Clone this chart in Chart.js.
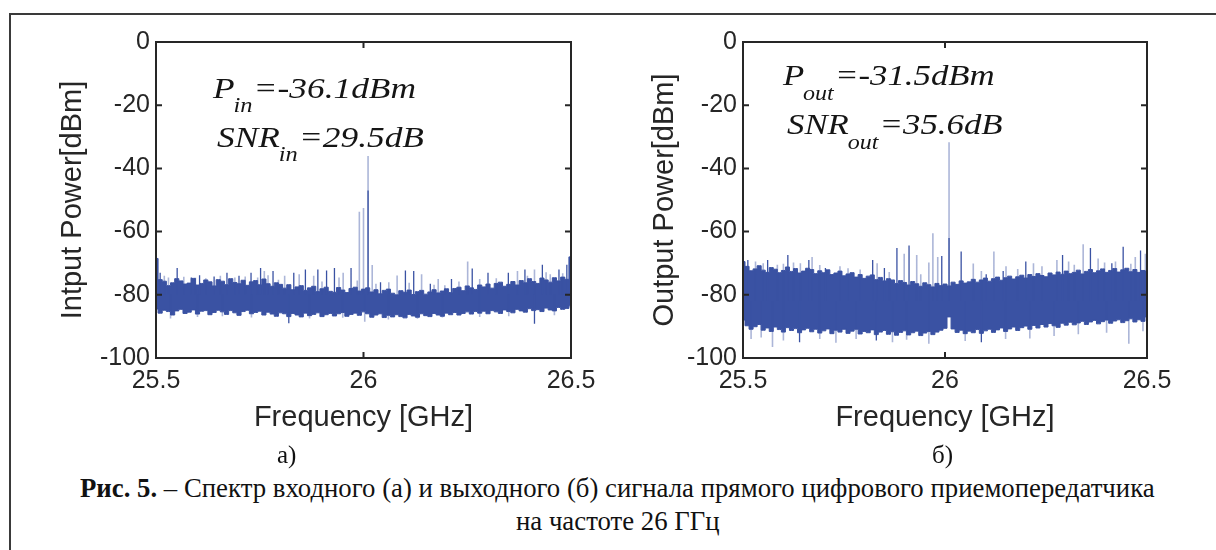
<!DOCTYPE html>
<html>
<head>
<meta charset="utf-8">
<script src="https://cdn.jsdelivr.net/npm/chart.js@4.4.1/dist/chart.umd.min.js"></script>
<style>
  body { margin:0; background:#fff; width:1216px; height:550px; overflow:hidden; position:relative; font-family:"Liberation Serif","Times New Roman",serif; }
  #frame { position:absolute; left:9px; top:13px; width:1300px; height:700px; border-top:2px solid #3a3a3a; border-left:2px solid #3a3a3a; }
  canvas { position:absolute; top:0; }
  #chartIn { left:0; }
  #chartOut { left:608px; }
  .cap { position:absolute; white-space:nowrap; color:#111; font-size:27px; line-height:28px; transform-origin:0 0; }
  .sub { font-size:25px; }
</style>
</head>
<body>
<div id="frame"></div>
<canvas id="chartIn" width="608" height="445"></canvas>
<canvas id="chartOut" width="608" height="445"></canvas>
<div class="cap sub" style="left:277px; top:441px;">а)</div>
<div class="cap sub" style="left:932px; top:441px;">б)</div>
<div class="cap" id="cap1" style="left:80px; top:474px;"><b>Рис. 5.</b> – Спектр входного (а) и выходного (б) сигнала прямого цифрового приемопередатчика</div>
<div class="cap" id="cap2" style="left:530px; top:507px;">на частоте 26 ГГц</div>
<script>
// frequency grid (GHz) used for the noise floor envelopes of both spectra
const freqGrid = [
  25.50,25.51,25.52,25.53,25.54,25.55,25.56,25.57,25.58,25.59,
  25.60,25.61,25.62,25.63,25.64,25.65,25.66,25.67,25.68,25.69,
  25.70,25.71,25.72,25.73,25.74,25.75,25.76,25.77,25.78,25.79,
  25.80,25.81,25.82,25.83,25.84,25.85,25.86,25.87,25.88,25.89,
  25.90,25.91,25.92,25.93,25.94,25.95,25.96,25.97,25.98,25.99,
  26.00,26.01,26.02,26.03,26.04,26.05,26.06,26.07,26.08,26.09,
  26.10,26.11,26.12,26.13,26.14,26.15,26.16,26.17,26.18,26.19,
  26.20,26.21,26.22,26.23,26.24,26.25,26.26,26.27,26.28,26.29,
  26.30,26.31,26.32,26.33,26.34,26.35,26.36,26.37,26.38,26.39,
  26.40,26.41,26.42,26.43,26.44,26.45,26.46,26.47,26.48,26.49,
  26.50
];

// input spectrum (a): top / bottom of the dense noise band, dBm
const inTop = [
  -68.5,-75.2,-75.7,-77.1,-76.2,-74.9,-75.6,-76.6,-76.3,-74.8,
  -76.9,-76.4,-75.3,-75.9,-77.2,-75.2,-75.7,-76.8,-74.9,-76.1,
  -76.5,-75.4,-77.0,-75.9,-75.5,-76.8,-75.0,-76.5,-77.3,-76.2,
  -76.7,-77.9,-76.8,-78.4,-77.5,-77.1,-78.6,-77.8,-77.3,-79.0,
  -78.1,-77.6,-78.9,-79.2,-77.7,-78.5,-79.3,-78.0,-77.6,-78.8,
  -78.2,-77.8,-79.1,-78.4,-79.7,-78.6,-78.2,-79.5,-80.0,-78.7,
  -79.2,-78.5,-79.9,-79.0,-78.6,-79.8,-79.1,-78.4,-79.4,-78.8,
  -78.1,-79.3,-78.0,-77.6,-78.7,-77.2,-77.8,-78.3,-76.9,-77.5,
  -76.6,-77.9,-76.4,-76.0,-77.3,-76.7,-75.8,-76.9,-75.5,-76.2,
  -74.9,-75.8,-76.4,-74.7,-75.3,-76.0,-74.6,-75.6,-74.4,-75.1,
  -68.0
];
const inBot = [
  -84.5,-85.8,-84.9,-85.3,-86.4,-85.1,-84.6,-85.9,-85.5,-84.8,
  -86.1,-85.2,-85.0,-86.3,-85.6,-84.9,-85.4,-86.2,-85.0,-85.7,
  -86.5,-85.3,-84.9,-86.0,-85.6,-85.2,-86.4,-85.5,-86.1,-86.8,
  -85.7,-86.0,-86.9,-85.9,-86.4,-87.0,-85.8,-86.6,-86.2,-85.7,
  -86.9,-86.3,-85.9,-86.7,-86.0,-85.6,-86.8,-86.2,-85.8,-86.5,
  -85.4,-86.0,-87.1,-86.4,-86.0,-87.2,-86.5,-87.0,-86.3,-86.9,
  -87.3,-86.2,-86.7,-87.1,-86.0,-86.6,-86.9,-85.9,-86.4,-86.8,
  -85.8,-86.3,-85.6,-86.4,-85.9,-85.4,-86.1,-85.3,-85.8,-85.2,
  -86.0,-85.0,-85.4,-85.9,-84.8,-85.3,-85.7,-84.6,-85.1,-85.5,
  -84.4,-85.0,-84.7,-85.3,-84.2,-84.8,-85.1,-84.0,-84.6,-84.3,
  -83.5
];
// isolated spectral lines [GHz, dBm], dark and faint strokes
const inSpikesDark = [
  [25.510,-73.0],[25.551,-71.5],[25.585,-74.5],[25.605,-73.8],[25.640,-74.2],
  [25.671,-73.0],[25.700,-74.0],[25.729,-73.0],[25.752,-71.5],[25.782,-72.5],
  [25.832,-73.0],[25.860,-72.0],[25.890,-72.0],[25.911,-72.3],[25.930,-71.5],
  [25.970,-71.5],[26.011,-47.0],[26.041,-76.0],[26.101,-72.3],[26.121,-72.5],
  [26.161,-76.5],[26.212,-75.0],[26.262,-71.7],[26.300,-73.0],[26.349,-73.0],
  [26.389,-72.0],[26.431,-70.5],[26.471,-72.0],[26.490,-70.5],
  [25.820,-89.0],[26.412,-89.2]
];
const inSpikesFaint = [
  [25.530,-74.5],[25.620,-74.8],[25.690,-74.5],[25.761,-72.5],[25.810,-74.0],
  [25.845,-73.5],[25.880,-74.0],[25.941,-74.5],[25.951,-73.0],[25.990,-53.7],
  [26.000,-52.5],[26.011,-36.1],[26.021,-70.6],[26.061,-76.0],[26.081,-73.9],
  [26.140,-73.5],[26.180,-75.0],[26.196,-77.0],[26.251,-69.5],[26.280,-75.0],
  [26.371,-72.5],[26.412,-72.0],[26.450,-73.5],
  [25.520,-74.0],[25.567,-74.3],[25.595,-74.6],[25.655,-74.0],[25.715,-74.2],
  [25.745,-74.5],[25.770,-73.8],[25.795,-75.2],[25.900,-75.8],[25.985,-75.5],
  [26.030,-76.5],[26.110,-76.2],[26.170,-76.8],[26.230,-75.8],[26.320,-74.8],
  [26.395,-74.0],[26.440,-72.9],[26.480,-73.2],
  [25.535,-87.5],[25.600,-87.0],[25.660,-86.8],[25.730,-87.2],[25.870,-87.5],
  [25.950,-87.3],[26.003,-88.5],[26.060,-87.8],[26.130,-87.6],[26.190,-87.2],
  [26.280,-87.0],[26.350,-86.8],[26.460,-86.5]
];

// output spectrum (б)
const outTop = [
  -69.5,-71.0,-72.4,-71.8,-70.8,-72.2,-72.9,-71.4,-71.9,-73.0,
  -72.3,-71.2,-72.6,-71.7,-73.1,-72.5,-71.6,-72.0,-73.3,-72.4,
  -73.0,-72.1,-73.6,-73.1,-72.5,-74.0,-73.4,-73.0,-74.4,-73.6,
  -74.8,-74.1,-73.7,-75.2,-74.5,-75.6,-74.9,-75.3,-76.4,-75.5,
  -76.1,-76.9,-75.8,-76.5,-77.3,-76.2,-76.8,-77.5,-76.4,-77.1,
  -76.6,-77.2,-76.0,-76.7,-75.6,-76.3,-75.9,-75.1,-76.0,-75.3,
  -74.7,-75.7,-74.9,-74.4,-75.4,-74.6,-74.1,-75.0,-74.3,-73.8,
  -74.7,-73.6,-74.2,-73.3,-73.9,-74.3,-73.1,-73.7,-72.8,-73.5,
  -72.5,-73.3,-72.9,-72.2,-73.4,-72.6,-72.0,-73.0,-72.4,-71.8,
  -72.9,-72.3,-71.7,-72.8,-72.1,-71.6,-72.7,-72.0,-72.9,-72.3,
  -72.5
];
const outBot = [
  -88.0,-89.8,-90.9,-90.1,-89.4,-91.2,-90.5,-91.6,-90.2,-91.0,
  -91.8,-90.4,-91.3,-90.7,-92.0,-91.1,-90.6,-91.7,-90.9,-92.1,
  -91.4,-90.8,-92.3,-91.2,-91.8,-90.9,-92.2,-91.5,-90.9,-92.4,
  -91.6,-92.0,-91.1,-92.6,-91.8,-91.3,-92.5,-91.7,-92.8,-91.9,
  -91.4,-92.7,-92.0,-91.5,-92.9,-92.1,-91.6,-92.6,-91.8,-91.2,
  -90.6,-87.0,-90.8,-91.9,-91.2,-92.3,-91.5,-92.0,-91.0,-92.2,
  -91.4,-90.9,-91.9,-91.1,-90.5,-91.6,-90.8,-90.2,-91.3,-90.4,
  -89.9,-90.9,-89.7,-90.5,-89.4,-90.2,-89.1,-89.8,-90.3,-89.0,
  -89.6,-88.7,-89.5,-88.9,-88.4,-89.4,-88.6,-88.1,-89.2,-88.5,
  -88.0,-89.0,-88.3,-87.9,-88.8,-88.2,-87.6,-88.6,-87.9,-88.4,
  -87.0
];
const outSpikesDark = [
  [25.512,-69.0],[25.561,-69.0],[25.611,-67.4],[25.663,-69.0],[25.704,-71.5],
  [25.821,-69.0],[25.850,-71.5],[25.881,-65.2],[25.911,-64.4],[25.992,-67.7],
  [26.010,-62.0],[26.040,-66.3],[26.102,-73.5],[26.144,-72.5],[26.200,-69.5],
  [26.291,-67.4],[26.360,-65.2],[26.413,-70.0],[26.441,-64.8],[26.484,-66.0],
  [25.640,-95.0],[25.830,-94.5],[26.090,-95.0]
];
const outSpikesFaint = [
  [25.531,-69.5],[25.585,-70.5],[25.642,-70.0],[25.671,-68.0],[25.740,-71.0],
  [25.832,-70.0],[25.899,-67.0],[25.930,-67.4],[25.960,-69.8],[25.970,-60.5],
  [25.982,-68.0],[26.010,-31.7],[26.070,-70.1],[26.121,-66.3],[26.151,-71.0],
  [26.219,-70.0],[26.277,-69.0],[26.306,-69.5],[26.342,-64.0],[26.379,-68.5],
  [26.422,-69.5],[26.471,-68.0],[26.496,-67.0],
  [25.550,-70.0],[25.600,-70.2],[25.625,-69.8],[25.690,-70.6],[25.760,-71.6],
  [25.790,-72.0],[25.862,-72.8],[25.940,-73.5],[26.090,-72.5],[26.180,-71.8],
  [26.240,-71.0],[26.320,-70.5],[26.395,-69.8],[26.460,-70.2],
  [25.520,-94.0],[25.545,-93.5],[25.573,-96.5],[25.600,-94.5],[25.690,-94.0],
  [25.730,-95.2],[25.780,-94.0],[25.870,-95.0],[25.905,-94.2],[25.960,-95.5],
  [26.050,-94.6],[26.150,-94.0],[26.210,-93.8],[26.270,-93.0],[26.330,-92.5],
  [26.400,-92.0],[26.455,-95.5],[26.490,-91.5]
];

const xTicks = [25.5, 26, 26.5];
const yTicks = [-100, -80, -60, -40, -20, 0];

const BLUE = 'rgb(58,82,163)';
const FAINT = 'rgba(58,82,163,0.42)';
const INK = '#262626';

Chart.defaults.font.family = '"Liberation Sans", Arial, sans-serif';
Chart.defaults.color = INK;

function band(values) {
    return freqGrid.map((f, i) => ({x: f, y: values[i]}));
}
// every line becomes base -> peak, then a gap
function stems(list, base) {
    const pts = [];
    list.forEach(([f, v]) => {
        pts.push({x: f, y: base}, {x: f, y: v}, {x: f, y: null});
    });
    return pts;
}

// axes box with inward ticks, like the matlab plot
const boxPlugin = {
    id: 'box',
    afterDatasetsDraw(chart) {
        const {ctx, chartArea: {left, right, top, bottom}, scales: {x, y}} = chart;
        ctx.save();
        ctx.strokeStyle = INK;
        ctx.lineWidth = 2;
        ctx.strokeRect(left, top, right - left, bottom - top);
        ctx.beginPath();
        y.ticks.forEach(t => {
            const py = y.getPixelForValue(t.value);
            if (py <= top + 1 || py >= bottom - 1) return;
            ctx.moveTo(left, py); ctx.lineTo(left + 6, py);
            ctx.moveTo(right, py); ctx.lineTo(right - 6, py);
        });
        x.ticks.forEach(t => {
            const px = x.getPixelForValue(t.value);
            if (px <= left + 1 || px >= right - 1) return;
            ctx.moveTo(px, bottom); ctx.lineTo(px, bottom - 6);
            ctx.moveTo(px, top); ctx.lineTo(px, top + 6);
        });
        ctx.stroke();
        ctx.restore();
    }
};

// italic P / SNR labels with subscripts
const notePlugin = {
    id: 'note',
    afterDraw(chart, args, opts) {
        const {ctx, chartArea} = chart;
        ctx.save();
        ctx.fillStyle = '#151515';
        ctx.textBaseline = 'alphabetic';
        opts.lines.forEach(line => {
            ctx.save();
            ctx.translate(chartArea.left + line.dx, chartArea.top + line.dy);
            ctx.scale(opts.stretch, 1);
            let x = 0;
            ctx.font = 'italic ' + opts.size + 'px "Liberation Serif"';
            ctx.fillText(line.main, x, 0);
            x += ctx.measureText(line.main).width;
            ctx.font = 'italic ' + opts.subSize + 'px "Liberation Serif"';
            ctx.fillText(line.sub, x - 1, opts.subDrop);
            x += ctx.measureText(line.sub).width;
            ctx.font = 'italic ' + opts.size + 'px "Liberation Serif"';
            ctx.fillText(line.rest, x, 0);
            ctx.restore();
        });
        ctx.restore();
    }
};

function spectrumConfig(top, bot, dark, faint, base, yTitle, yWidth, titlePad, rightPad, notes) {
    return {
        type: 'line',
        data: {
            datasets: [
                {data: stems(faint, base), borderColor: FAINT, borderWidth: 1.6, pointRadius: 0, spanGaps: false, fill: false},
                {data: stems(dark, base), borderColor: BLUE, borderWidth: 1.3, pointRadius: 0, spanGaps: false, fill: false},
                {data: band(bot), borderColor: BLUE, borderWidth: 1, pointRadius: 0, fill: false, stepped: 'middle'},
                {data: band(top), borderColor: BLUE, borderWidth: 1, pointRadius: 0, fill: '-1', backgroundColor: BLUE, stepped: 'middle'}
            ]
        },
        options: {
            responsive: false,
            animation: false,
            events: [],
            layout: {padding: {left: 0, top: 42, right: rightPad, bottom: 0}},
            plugins: {
                legend: {display: false},
                tooltip: {enabled: false},
                note: notes
            },
            scales: {
                x: {
                    type: 'linear', min: 25.5, max: 26.5,
                    afterBuildTicks: s => { s.ticks = xTicks.map(v => ({value: v})); },
                    afterFit: s => { s.height = 87; },
                    grid: {display: false, drawTicks: false},
                    border: {display: false},
                    ticks: {font: {size: 25}, padding: 8, maxRotation: 0, autoSkip: false, callback: v => String(v)},
                    title: {display: true, text: 'Frequency [GHz]', font: {size: 29}, padding: {top: 0, bottom: 10}}
                },
                y: {
                    type: 'linear', min: -100, max: 0,
                    afterBuildTicks: s => { s.ticks = yTicks.map(v => ({value: v})); },
                    afterFit: s => { s.width = yWidth; },
                    grid: {display: false, drawTicks: false},
                    border: {display: false},
                    ticks: {font: {size: 25}, padding: 6, autoSkip: false, callback: v => String(v)},
                    title: {display: true, text: yTitle, font: {size: 29}, padding: {top: titlePad, bottom: 0}}
                }
            }
        },
        plugins: [boxPlugin, notePlugin]
    };
}

const graphIn = spectrumConfig(inTop, inBot, inSpikesDark, inSpikesFaint, -80,
    'Intput Power[dBm]', 156, 56, 37,
    {size: 29, subSize: 20, subDrop: 14, stretch: 1.22, lines: [
        {dx: 57, dy: 56, main: 'P', sub: 'in', rest: '=-36.1dBm'},
        {dx: 61, dy: 105, main: 'SNR', sub: 'in', rest: '=29.5dB'}
    ]});

const graphOut = spectrumConfig(outTop, outBot, outSpikesDark, outSpikesFaint, -82,
    'Output Power[dBm]', 135, 40, 69,
    {size: 29, subSize: 20, subDrop: 15, stretch: 1.2, lines: [
        {dx: 40, dy: 43, main: 'P', sub: 'out', rest: '=-31.5dBm'},
        {dx: 44, dy: 92, main: 'SNR', sub: 'out', rest: '=35.6dB'}
    ]});

const chartIn = new Chart(document.getElementById('chartIn'), graphIn);
const chartOut = new Chart(document.getElementById('chartOut'), graphOut);

// caption is squeezed to the width it takes in the figure, second line uses the same squeeze, centred
const cap1 = document.getElementById('cap1');
const cap2 = document.getElementById('cap2');
const squeeze = 1075 / cap1.offsetWidth;
cap1.style.transform = 'scaleX(' + squeeze + ')';
cap2.style.transform = 'scaleX(' + squeeze + ')';
cap2.style.left = (618 - cap2.offsetWidth * squeeze / 2) + 'px';
</script>
</body>
</html>
